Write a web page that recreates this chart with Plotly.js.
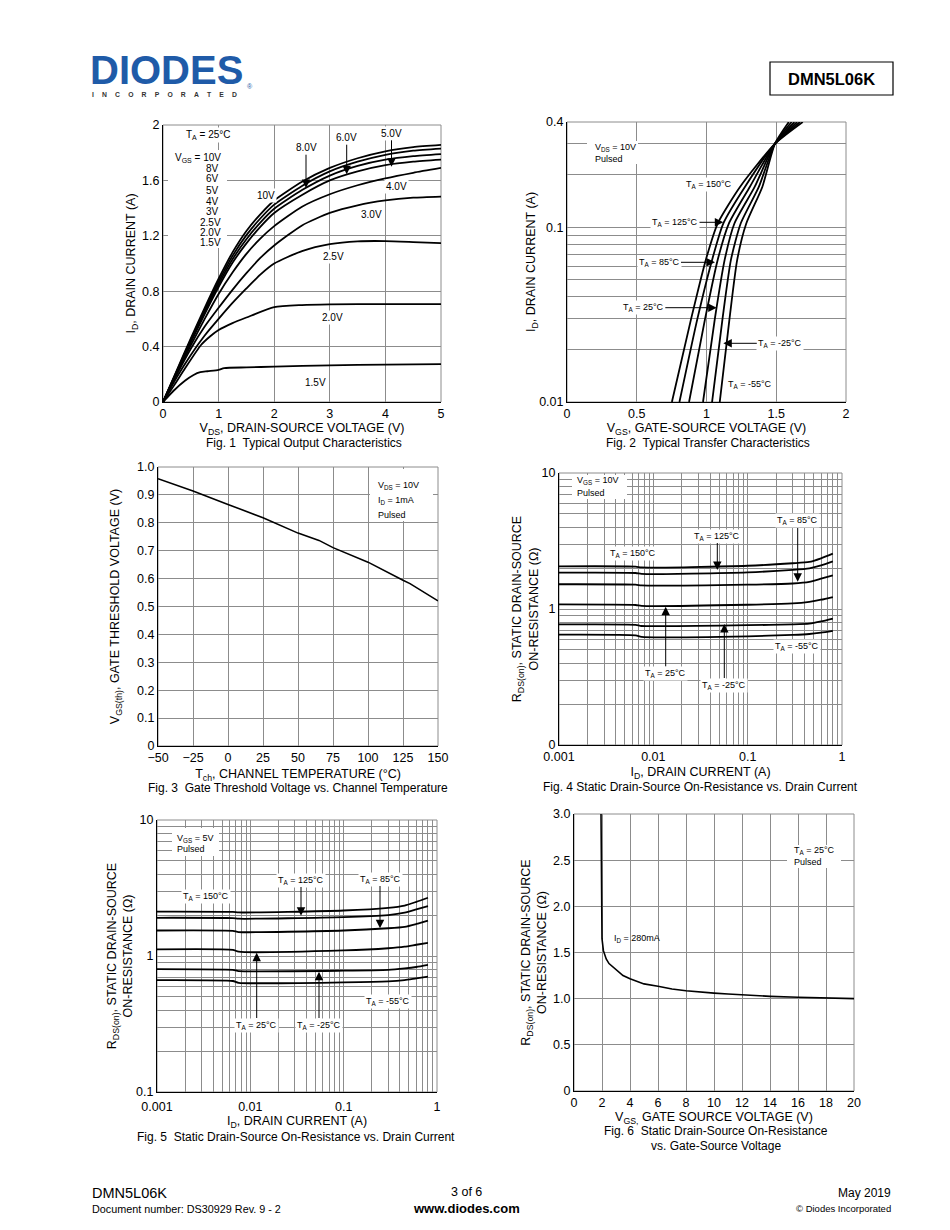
<!DOCTYPE html>
<html><head><meta charset="utf-8">
<script src="https://cdn.plot.ly/plotly-3.0.1.min.js"></script>
<style>html,body{margin:0;padding:0;background:#fff}#chart{width:950px;height:1230px}</style>
</head><body><div id="chart"></div>
<script>
// ---------------- DATA ----------------
// Fig. 1  Typical Output Characteristics (VDS in V, ID in A)
const fig1Vds = [0,0.25,0.5,0.75,1,1.25,1.5,1.75,2,2.5,3,3.5,4,4.5,5];
const fig1Id_10V = [0,0.23,0.46,0.68,0.89,1.08,1.235,1.355,1.455,1.59,1.69,1.76,1.81,1.84,1.856];
const fig1Id_8V  = [0,0.225,0.45,0.665,0.87,1.055,1.205,1.325,1.425,1.56,1.665,1.735,1.785,1.815,1.83];
const fig1Id_6V  = [0,0.22,0.44,0.65,0.85,1.03,1.175,1.295,1.395,1.53,1.635,1.705,1.75,1.775,1.79];
const fig1Id_5V  = [0,0.215,0.43,0.635,0.83,1.005,1.145,1.265,1.365,1.495,1.60,1.665,1.71,1.735,1.75];
const fig1Id_4V  = [0,0.21,0.41,0.60,0.78,0.935,1.07,1.18,1.27,1.41,1.50,1.565,1.615,1.655,1.69];
const fig1Id_3V  = [0,0.2,0.385,0.545,0.68,0.81,0.93,1.04,1.13,1.275,1.365,1.42,1.455,1.475,1.483];
const fig1Id_2V5 = [0,0.18,0.34,0.48,0.6,0.715,0.82,0.92,1.0,1.09,1.14,1.16,1.162,1.155,1.147];
const fig1Vds_2V0 = [0,0.2,0.4,0.68,0.85,1,1.25,1.5,2,2.5,3,4,5];
const fig1Id_2V0  = [0,0.12,0.245,0.41,0.475,0.52,0.57,0.61,0.685,0.7,0.705,0.707,0.707];
const fig1Vds_1V5 = [0,0.2,0.4,0.55,0.67,0.8,1,1.1,1.5,2,3,4,5];
const fig1Id_1V5  = [0,0.085,0.155,0.195,0.215,0.222,0.232,0.245,0.25,0.255,0.265,0.27,0.274];

// Fig. 2  Typical Transfer Characteristics (ID in A, VGS in V)
const fig2Id = [0.01,0.03,0.065,0.105,0.17,0.3,0.4];
const fig2Vgs_150C = [0.752,0.89,0.995,1.08,1.24,1.49,1.69];
const fig2Vgs_125C = [0.806,0.935,1.04,1.12,1.275,1.49,1.67];
const fig2Vgs_85C  = [0.875,0.99,1.08,1.16,1.31,1.49,1.65];
const fig2Vgs_25C  = [0.975,1.06,1.13,1.20,1.345,1.49,1.63];
const fig2Vgs_m25C = [1.04,1.115,1.175,1.245,1.375,1.49,1.61];
const fig2Vgs_m55C = [1.095,1.165,1.22,1.285,1.40,1.49,1.59];

// Fig. 3  Gate Threshold Voltage vs. Channel Temperature
const fig3Tch = [-50,-25,0,25,50,65,75,100,125,130,150];
const fig3Vth = [0.958,0.914,0.866,0.818,0.763,0.737,0.711,0.659,0.594,0.582,0.52];

// Fig. 4  RDS(on) vs ID, VGS = 10V
const fig4Id = [0.001,0.0065,0.0075,0.1,0.3,0.45,0.6,0.8];
const fig4R_150C = [2.06,2.05,2.02,2.08,2.17,2.22,2.36,2.55];
const fig4R_125C = [1.85,1.84,1.81,1.86,1.94,1.99,2.09,2.24];
const fig4R_85C  = [1.52,1.51,1.49,1.51,1.54,1.58,1.67,1.77];
const fig4R_25C  = [1.08,1.07,1.055,1.075,1.10,1.13,1.17,1.225];
const fig4R_m25C = [0.77,0.765,0.75,0.76,0.77,0.78,0.81,0.85];
const fig4R_m55C = [0.648,0.64,0.623,0.63,0.645,0.655,0.67,0.69];

// Fig. 5  RDS(on) vs ID, VGS = 5V
const fig5Id = [0.001,0.0065,0.0075,0.1,0.3,0.45,0.6,0.8];
const fig5R_150C = [2.12,2.11,2.09,2.16,2.26,2.35,2.5,2.68];
const fig5R_125C = [1.91,1.90,1.88,1.93,2.0,2.08,2.2,2.33];
const fig5R_85C  = [1.54,1.53,1.50,1.54,1.6,1.64,1.72,1.82];
const fig5R_25C  = [1.12,1.11,1.075,1.1,1.14,1.17,1.21,1.25];
const fig5R_m25C = [0.80,0.79,0.775,0.78,0.79,0.81,0.83,0.86];
const fig5R_m55C = [0.665,0.655,0.635,0.64,0.65,0.665,0.685,0.705];

// Fig. 6  RDS(on) vs VGS, ID = 280mA
const fig6Vgs = [1.93,1.95,1.98,2.0,2.1,2.3,2.5,3,3.5,4,5,6,7,8,9,10,11,12,14,16,18,20];
const fig6R   = [3.0,2.5,2.0,1.65,1.52,1.43,1.38,1.31,1.25,1.215,1.16,1.135,1.105,1.085,1.07,1.06,1.05,1.04,1.025,1.015,1.008,1.0];

// tick labels
const fig1XTicks = [0,1,2,3,4,5];
const fig1YTicks = [0,0.4,0.8,1.2,1.6,2];
const fig1YText  = ['0','0.4','0.8','1.2','1.6','2'];
const fig2XTicks = [0,0.5,1,1.5,2];
const fig2XText  = ['0','0.5','1','1.5','2'];
const fig2YTicks = [0.01,0.1,0.4];
const fig2YText  = ['0.01','0.1','0.4'];
const fig3XTicks = [-50,-25,0,25,50,75,100,125,150];
const fig3YTicks = [0,0.1,0.2,0.3,0.4,0.5,0.6,0.7,0.8,0.9,1.0];
const fig3YText  = ['0','0.1','0.2','0.3','0.4','0.5','0.6','0.7','0.8','0.9','1.0'];
const logXTicks = [0.001,0.01,0.1,1];
const logXText  = ['0.001','0.01','0.1','1'];
const fig4YTicks = [0.1,1,10];
const fig4YText  = ['0','1','10'];
const fig5YTicks = [0.1,1,10];
const fig5YText  = ['0.1','1','10'];
const fig6XTicks = [0,2,4,6,8,10,12,14,16,18,20];
const fig6YTicks = [0,0.5,1,1.5,2,2.5,3];
const fig6YText  = ['0','0.5','1.0','1.5','2.0','2.5','3.0'];

// ---------------- STYLE / LAYOUT ----------------
const W = 950, H = 1230;
const FONT = 'Liberation Sans, Arial, Helvetica, sans-serif';
const GRID = '#8c8c8c';
const PX = x => x / W, PY = y => 1 - y / H;
const boxes = [
  {l:163, r:441, t:125, b:402},
  {l:567, r:846, t:122, b:402},
  {l:158, r:438, t:467, b:746},
  {l:559, r:842, t:473, b:745},
  {l:157, r:437, t:820, b:1092},
  {l:574, r:854, t:814, b:1091}
];
const tickFont = {family: FONT, size: 12.5, color: '#000'};
const titleFont = {family: FONT, size: 12.5, color: '#000'};

function minorLog(k0, k1) {
  const v = [];
  for (let k = k0; k < k1; k++) for (let m = 2; m <= 9; m++) v.push(m * Math.pow(10, k));
  return v;
}
function axId(i, letter) { return letter + (i === 0 ? '' : (i + 1)); }

function xAxis(i, o) {
  const b = boxes[i];
  return Object.assign({
    domain: [b.l / W, b.r / W], anchor: axId(i, 'y'),
    showgrid: true, gridcolor: GRID, gridwidth: 1, zeroline: false,
    showline: true, linecolor: '#000', linewidth: 1, ticks: '',
    tickfont: tickFont, fixedrange: true, tickmode: 'array'
  }, o);
}
function yAxis(i, o) {
  const b = boxes[i];
  return Object.assign({
    domain: [1 - b.b / H, 1 - b.t / H], anchor: axId(i, 'x'),
    showgrid: true, gridcolor: GRID, gridwidth: 1, zeroline: false,
    showline: true, linecolor: '#000', linewidth: 1, ticks: '',
    tickfont: tickFont, fixedrange: true, tickmode: 'array'
  }, o);
}

function curve(i, xs, ys, extra) {
  return Object.assign({
    type: 'scatter', mode: 'lines', x: xs, y: ys,
    xaxis: axId(i, 'x'), yaxis: axId(i, 'y'),
    line: {color: '#000', width: 1.8, shape: 'spline', smoothing: 0.6},
    hoverinfo: 'skip', showlegend: false
  }, extra || {});
}

const traces = [
  curve(0, fig1Vds, fig1Id_10V), curve(0, fig1Vds, fig1Id_8V), curve(0, fig1Vds, fig1Id_6V),
  curve(0, fig1Vds, fig1Id_5V), curve(0, fig1Vds, fig1Id_4V), curve(0, fig1Vds, fig1Id_3V),
  curve(0, fig1Vds, fig1Id_2V5), curve(0, fig1Vds_2V0, fig1Id_2V0), curve(0, fig1Vds_1V5, fig1Id_1V5),
  curve(1, fig2Vgs_150C, fig2Id), curve(1, fig2Vgs_125C, fig2Id), curve(1, fig2Vgs_85C, fig2Id),
  curve(1, fig2Vgs_25C, fig2Id), curve(1, fig2Vgs_m25C, fig2Id), curve(1, fig2Vgs_m55C, fig2Id),
  curve(2, fig3Tch, fig3Vth, {line: {color: '#000', width: 1.6}}),
  curve(3, fig4Id, fig4R_150C), curve(3, fig4Id, fig4R_125C), curve(3, fig4Id, fig4R_85C),
  curve(3, fig4Id, fig4R_25C), curve(3, fig4Id, fig4R_m25C), curve(3, fig4Id, fig4R_m55C),
  curve(4, fig5Id, fig5R_150C), curve(4, fig5Id, fig5R_125C), curve(4, fig5Id, fig5R_85C),
  curve(4, fig5Id, fig5R_25C), curve(4, fig5Id, fig5R_m25C), curve(4, fig5Id, fig5R_m55C),
  curve(5, fig6Vgs, fig6R, {line: {color: '#000', width: 1.6}})
];

const minorStyle = {showgrid: true, gridcolor: GRID, gridwidth: 1, ticks: ''};

const layout = {
  width: W, height: H, margin: {l: 0, r: 0, t: 0, b: 0},
  paper_bgcolor: '#fff', plot_bgcolor: '#fff', showlegend: false, hovermode: false,
  font: {family: FONT, color: '#000'},
  xaxis: xAxis(0, {range: [0, 5], tickvals: fig1XTicks,
    title: {text: 'V<sub>DS</sub>, DRAIN-SOURCE VOLTAGE (V)', font: titleFont, standoff: 3}}),
  yaxis: yAxis(0, {range: [0, 2], tickvals: fig1YTicks, ticktext: fig1YText,
    title: {text: 'I<sub>D</sub>, DRAIN CURRENT (A)', font: titleFont, standoff: 3}}),
  xaxis2: xAxis(1, {range: [0, 2], tickvals: fig2XTicks, ticktext: fig2XText,
    title: {text: 'V<sub>GS</sub>, GATE-SOURCE VOLTAGE (V)', font: titleFont, standoff: 3}}),
  yaxis2: yAxis(1, {type: 'log', range: [-2, Math.log10(0.4)], tickvals: fig2YTicks, ticktext: fig2YText,
    minor: Object.assign({tickmode: 'array', tickvals: minorLog(-2, 0).filter(v => v < 0.4)}, minorStyle),
    title: {text: 'I<sub>D</sub>, DRAIN CURRENT (A)', font: titleFont, standoff: 0}}),
  xaxis3: xAxis(2, {range: [-50, 150], tickvals: fig3XTicks,
    title: {text: 'T<sub>ch</sub>, CHANNEL TEMPERATURE (°C)', font: titleFont, standoff: 5}}),
  yaxis3: yAxis(2, {range: [0, 1], tickvals: fig3YTicks, ticktext: fig3YText,
    title: {text: 'V<sub>GS(th)</sub>, GATE THRESHOLD VOLTAGE (V)', font: titleFont, standoff: 14}}),
  xaxis4: xAxis(3, {type: 'log', range: [-3, 0], tickvals: logXTicks, ticktext: logXText,
    minor: Object.assign({tickmode: 'array', tickvals: minorLog(-3, 0)}, minorStyle),
    title: {text: 'I<sub>D</sub>, DRAIN CURRENT (A)', font: titleFont, standoff: 4}}),
  yaxis4: yAxis(3, {type: 'log', range: [-1, 1], tickvals: fig4YTicks, ticktext: fig4YText,
    minor: Object.assign({tickmode: 'array', tickvals: minorLog(-1, 1)}, minorStyle),
    title: {text: 'R<sub>DS(on)</sub>, STATIC DRAIN-SOURCE<br>ON-RESISTANCE (Ω)', font: titleFont, standoff: 0}}),
  xaxis5: xAxis(4, {type: 'log', range: [-3, 0], tickvals: logXTicks, ticktext: logXText, ticklabelstandoff: 3,
    minor: Object.assign({tickmode: 'array', tickvals: minorLog(-3, 0)}, minorStyle),
    title: {text: 'I<sub>D</sub>, DRAIN CURRENT (A)', font: titleFont, standoff: 1}}),
  yaxis5: yAxis(4, {type: 'log', range: [-1, 1], tickvals: fig5YTicks, ticktext: fig5YText,
    minor: Object.assign({tickmode: 'array', tickvals: minorLog(-1, 1)}, minorStyle),
    title: {text: 'R<sub>DS(on)</sub>, STATIC DRAIN-SOURCE<br>ON-RESISTANCE (Ω)', font: titleFont, standoff: 0}}),
  xaxis6: xAxis(5, {range: [0, 20], tickvals: fig6XTicks,
    title: {text: 'V<sub>GS,</sub> GATE SOURCE VOLTAGE (V)', font: titleFont, standoff: 3}}),
  yaxis6: yAxis(5, {range: [0, 3], tickvals: fig6YTicks, ticktext: fig6YText,
    title: {text: 'R<sub>DS(on)</sub>, STATIC DRAIN-SOURCE<br>ON-RESISTANCE (Ω)', font: titleFont, standoff: 3}}),
  shapes: [],
  annotations: []
};

// frames (gray top/right like grid)
for (let i = 0; i < 6; i++) {
  layout.shapes.push({type: 'rect', xref: axId(i, 'x') + ' domain', yref: axId(i, 'y') + ' domain',
    x0: 0, x1: 1, y0: 0, y1: 1, line: {color: GRID, width: 1}, layer: 'below'});
}
// white label boxes that break the grid (no curves inside them)
function whiteBox(l, t, r, b) {
  layout.shapes.push({type: 'rect', xref: 'paper', yref: 'paper', x0: PX(l), x1: PX(r), y0: PY(b), y1: PY(t),
    fillcolor: '#fff', line: {width: 0}, layer: 'above'});
}
whiteBox(168, 150, 227, 248);
whiteBox(587, 141, 638, 164);
whiteBox(370, 469, 433, 521);
whiteBox(572, 475, 627, 499);
whiteBox(172, 828, 219, 856);
whiteBox(787, 845, 841, 868);

// header box
layout.shapes.push({type: 'rect', xref: 'paper', yref: 'paper', x0: PX(770), x1: PX(893), y0: PY(95), y1: PY(62),
  line: {color: '#000', width: 1.2}, fillcolor: 'rgba(0,0,0,0)', layer: 'above'});

const A = layout.annotations;
function txt(x, y, text, size, o) {
  A.push(Object.assign({xref: 'paper', yref: 'paper', x: PX(x), y: PY(y), text: text, showarrow: false,
    xanchor: 'center', yanchor: 'middle', font: {family: FONT, size: size, color: '#000'}}, o || {}));
}
function lab(x, y, text, size, o) { txt(x, y, text, size, Object.assign({bgcolor: '#fff', borderpad: 1}, o || {})); }
function arrow(tx, ty, lx, ly, text, size) {
  A.push({xref: 'paper', yref: 'paper', x: PX(tx), y: PY(ty), ax: lx - tx, ay: ly - ty, axref: 'pixel', ayref: 'pixel',
    text: text, showarrow: true, arrowhead: 2, arrowsize: 1.7, arrowwidth: 1, arrowcolor: '#000', standoff: 0,
    bgcolor: '#fff', borderpad: 1, font: {family: FONT, size: size, color: '#000'}});
}
const TA = t => 'T<sub>A</sub> = ' + t + '°C';

// ---- header
txt(89, 69.5, '<b>DIODES</b>', 40, {xanchor: 'left', borderpad: 0, font: {family: FONT, size: 40, color: '#1f5ba8'}});
txt(164, 94.5, '<b>' + 'INCORPORATED'.split('').join('\u2003\u2009') + '</b>', 6.8, {borderpad: 0, font: {family: FONT, size: 6.8, color: '#333'}});
txt(250, 86, '®', 7, {font: {family: FONT, size: 7, color: '#1f5ba8'}});
txt(831.5, 79, '<b>DMN5L06K</b>', 16.5);

// ---- Fig 1
lab(208.3, 135, TA(25), 10);
txt(223, 158.3, 'V<sub>GS</sub> = 10V', 10, {xanchor: 'right'});
[['8V',168.3],['6V',179],['5V',190],['4V',201],['3V',211.7]].forEach(p => txt(221, p[1], p[0], 10, {xanchor: 'right'}));
[['2.5V',222.3],['2.0V',232.7],['1.5V',242.7]].forEach(p => txt(223, p[1], p[0], 10, {xanchor: 'right'}));
lab(265.7, 195.7, '10V', 10);
lab(396, 186.7, '4.0V', 10);
lab(371.7, 214.3, '3.0V', 10);
lab(333.3, 256, '2.5V', 10);
lab(332.7, 317.3, '2.0V', 10);
lab(315.7, 382.7, '1.5V', 10);
arrow(306, 188, 306, 147.7, '8.0V', 10);
arrow(346.7, 174.3, 346.7, 137.7, '6.0V', 10);
arrow(391.5, 166.7, 391.5, 133.3, '5.0V', 10);
txt(304, 443, 'Fig. 1\u00a0 Typical Output Characteristics', 12);

// ---- Fig 2
txt(593, 147, 'V<sub>DS</sub> = 10V', 9, {xanchor: 'left'});
txt(593, 159, 'Pulsed', 9, {xanchor: 'left'});
lab(709, 184, TA(150), 9);
arrow(723.3, 222.3, 675, 222.3, TA(125), 9);
arrow(715, 262.3, 659, 262.3, TA(85), 9);
arrow(716.7, 307.7, 643.3, 307.7, TA(25), 9);
arrow(723.3, 343.3, 780.3, 343.3, TA(-25), 9);
lab(750, 384.3, TA(-55), 9);
txt(708, 443, 'Fig. 2\u00a0 Typical Transfer Characteristics', 12);

// ---- Fig 3
txt(376, 485, 'V<sub>DS</sub> = 10V', 9, {xanchor: 'left'});
txt(376, 500.7, 'I<sub>D</sub> = 1mA', 9, {xanchor: 'left'});
txt(376, 515, 'Pulsed', 9, {xanchor: 'left'});
txt(297.5, 788, 'Fig. 3\u00a0 Gate Threshold Voltage vs. Channel Temperature', 12);

// ---- Fig 4
txt(575, 480, 'V<sub>GS</sub> = 10V', 9, {xanchor: 'left'});
txt(575, 493, 'Pulsed', 9, {xanchor: 'left'});
arrow(797.7, 581.7, 797.7, 521, TA(85), 9);
arrow(717.3, 570, 717.3, 536, TA(125), 9);
lab(633.3, 553.3, TA(150), 9);
arrow(665.7, 606.7, 665.7, 673.3, TA(25), 9);
arrow(724.3, 624, 724.3, 685, TA(-25), 9);
lab(796.7, 646.7, TA(-55), 9);
txt(700, 787, 'Fig. 4 Static Drain-Source On-Resistance vs. Drain Current', 12);

// ---- Fig 5
txt(175, 838.3, 'V<sub>GS</sub> = 5V', 9, {xanchor: 'left'});
txt(175, 848.5, 'Pulsed', 9, {xanchor: 'left'});
arrow(301, 915.7, 301, 880, TA(125), 9);
arrow(380, 928.3, 380, 879, TA(85), 9);
lab(206, 896.7, TA(150), 9);
arrow(256.7, 952.7, 256.7, 1025, TA(25), 9);
arrow(319, 971.7, 319, 1025, TA(-25), 9);
lab(387.7, 1001.7, TA(-55), 9);
txt(295.5, 1136.5, 'Fig. 5\u00a0 Static Drain-Source On-Resistance vs. Drain Current', 12);

// ---- Fig 6
txt(792, 850, TA(25), 9, {xanchor: 'left'});
txt(792, 861.7, 'Pulsed', 9, {xanchor: 'left'});
txt(612, 938.3, 'I<sub>D</sub> = 280mA', 9, {xanchor: 'left'});
txt(715.8, 1131, 'Fig. 6\u00a0 Static Drain-Source On-Resistance', 12);
txt(715.8, 1146, 'vs. Gate-Source Voltage', 12);

// ---- footer
txt(90, 1193, 'DMN5L06K', 14.5, {xanchor: 'left'});
txt(90, 1209, 'Document number: DS30929 Rev. 9 - 2', 10.8, {xanchor: 'left'});
txt(466, 1192, '3 of 6', 12.5);
txt(466, 1208, '<b>www.diodes.com</b>', 13);
txt(893, 1193, 'May 2019', 12, {xanchor: 'right'});
txt(893, 1208, '© Diodes Incorporated', 9.5, {xanchor: 'right'});

Plotly.newPlot('chart', traces, layout, {staticPlot: true, displayModeBar: false});
</script>
</body></html>
